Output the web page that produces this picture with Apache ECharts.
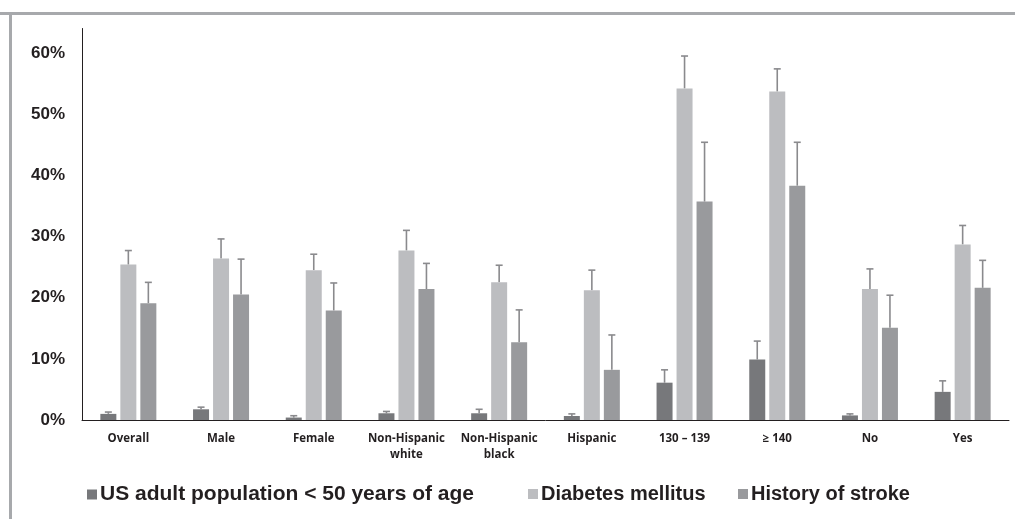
<!DOCTYPE html>
<html>
<head>
<meta charset="utf-8">
<script src="https://cdn.jsdelivr.net/npm/echarts@6/dist/echarts.min.js"></script>
<style>
html,body{margin:0;padding:0;background:#fff;}
#chart{width:1015px;height:519px;}
</style>
</head>
<body>
<div id="chart"></div>
<script>
const categories = ['Overall','Male','Female','Non-Hispanic\nwhite','Non-Hispanic\nblack','Hispanic','130 – 139','≥ 140','No','Yes'];
const yTicks = [0,10,20,30,40,50,60];
const seriesNames = ['US adult population < 50 years of age','Diabetes mellitus','History of stroke'];
const under50 = [1.0,1.75,0.4,1.1,1.1,0.65,6.1,9.9,0.75,4.6];
const under50Upper = [1.3,2.1,0.7,1.4,1.75,1.0,8.2,12.9,1.0,6.4];
const diabetes = [25.4,26.4,24.5,27.7,22.5,21.2,54.2,53.7,21.4,28.7];
const diabetesUpper = [27.7,29.6,27.1,31.0,25.3,24.5,59.5,57.4,24.7,31.8];
const stroke = [19.1,20.5,17.9,21.4,12.7,8.2,35.7,38.3,15.1,21.6];
const strokeUpper = [22.5,26.3,22.4,25.6,18.0,13.9,45.4,45.4,20.4,26.1];

const colors = ['#77787b','#bcbdc0','#999a9d'];
const BAR_W = 16, BAR_GAP = 4;
const values = [under50, diabetes, stroke];
const uppers = [under50Upper, diabetesUpper, strokeUpper];

const chart = echarts.init(document.getElementById('chart'));

const barSeries = seriesNames.map((n,i)=>({
  name:n, type:'bar', data: values[i], barWidth: BAR_W, barGap: (BAR_GAP/BAR_W*100)+'%',
  itemStyle:{color:colors[i]}, z:2
}));

const errSeries = seriesNames.map((n,i)=>({
  type:'custom', name:n+' err', z:1, silent:true,
  encode:{x:0,y:[1,2]},
  data: categories.map((c,k)=>[k, values[i][k], uppers[i][k]]),
  renderItem:function(params, api){
    const off = (i-1)*(BAR_W+BAR_GAP);
    const b = api.coord([api.value(0), api.value(1)]);
    const t = api.coord([api.value(0), api.value(2)]);
    const x = b[0]+off;
    const style = {stroke:'#8a8a8d', lineWidth:1.6};
    return {type:'group', children:[
      {type:'line', shape:{x1:x,y1:b[1],x2:x,y2:t[1]}, style:style},
      {type:'line', shape:{x1:x-3.5,y1:t[1],x2:x+3.5,y2:t[1]}, style:style}
    ]};
  }
}));

function legendAt(name, left, size){
  return {
    data:[name], left:left, top:479, icon:'rect', itemWidth:10, itemHeight:10, itemGap:0,
    textStyle:{fontFamily:'Liberation Sans', fontWeight:'bold', fontSize:size, color:'#231f20', padding:[0,0,0,-2]}
  };
}

chart.setOption({
  animation:false,
  color: colors,
  graphic:[
    {type:'rect', shape:{x:0,y:12,width:1015,height:3}, style:{fill:'#a7a9ac'}, silent:true},
    {type:'rect', shape:{x:9,y:12,width:3,height:507}, style:{fill:'#a7a9ac'}, silent:true}
  ],
  legend:[legendAt(seriesNames[0], 82, 21), legendAt(seriesNames[1], 523, 20), legendAt(seriesNames[2], 733, 20)],
  grid:{left:82, right:6, top:28.5, bottom:99, containLabel:false},
  xAxis:{
    type:'category', data:categories,
    axisLine:{lineStyle:{color:'#231f20', width:1}},
    axisTick:{show:false},
    axisLabel:{interval:0, margin:11, fontFamily:'Open Sans', fontWeight:'bold', fontSize:11.5, color:'#231f20', lineHeight:16}
  },
  yAxis:{
    type:'value', min:yTicks[0], max:64, interval:yTicks[1]-yTicks[0],
    splitLine:{show:false},
    axisLine:{show:true, lineStyle:{color:'#231f20', width:1}},
    axisTick:{show:false},
    axisLabel:{showMaxLabel:false, margin:17, fontFamily:'Liberation Sans', fontWeight:'bold', fontSize:17, color:'#231f20',
      formatter:function(v){ return yTicks.indexOf(v)>=0 ? v+'%' : ''; }}
  },
  series: barSeries.concat(errSeries)
});
</script>
</body>
</html>
